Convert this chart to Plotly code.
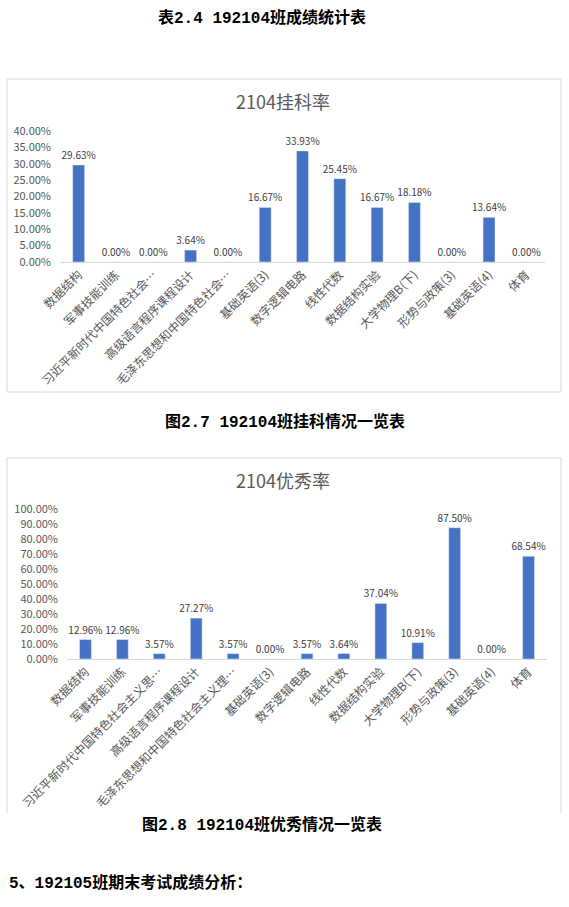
import plotly.graph_objects as go

W, H = 569, 907

# ---- data ----
fail_labels = ["数据结构", "军事技能训练", "习近平新时代中国特色社会…", "高级语言程序课程设计",
               "毛泽东思想和中国特色社会…", "基础英语(3)", "数字逻辑电路", "线性代数",
               "数据结构实验", "大学物理B(下)", "形势与政策(3)", "基础英语(4)", "体育"]
fail_rate = [0.2963, 0.0, 0.0, 0.0364, 0.0, 0.1667, 0.3393, 0.2545, 0.1667, 0.1818, 0.0, 0.1364, 0.0]

exc_labels = ["数据结构", "军事技能训练", "习近平新时代中国特色社会主义思…", "高级语言程序课程设计",
              "毛泽东思想和中国特色社会主义理…", "基础英语(3)", "数字逻辑电路", "线性代数",
              "数据结构实验", "大学物理B(下)", "形势与政策(3)", "基础英语(4)", "体育"]
exc_rate = [0.1296, 0.1296, 0.0357, 0.2727, 0.0357, 0.0, 0.0357, 0.0364, 0.3704, 0.1091, 0.8750, 0.0, 0.6854]

title1 = "2104挂科率"
title2 = "2104优秀率"
cap_top = "表2.4 192104班成绩统计表"
cap1 = "图2.7 192104班挂科情况一览表"
cap2 = "图2.8 192104班优秀情况一览表"
cap_bottom = "5、192105班期末考试成绩分析："

# ---- helpers ----
def px(x):
    return x / W

def py(y):
    return 1 - y / H

GRAY = "#595959"
BAR = "#4472C4"
CJK = "Noto Sans CJK SC, Noto Sans, sans-serif"
CAPF = "Liberation Mono, Noto Sans CJK SC, monospace"

fig = go.Figure()
for lab, val, xa, ya in [(fail_labels, fail_rate, "x", "y"), (exc_labels, exc_rate, "x2", "y2")]:
    fig.add_trace(go.Bar(x=lab, y=val, marker_color=BAR, xaxis=xa, yaxis=ya,
                         texttemplate="%{y:.2%}", textposition="outside", cliponaxis=False,
                         constraintext="none",
                         textfont=dict(size=10, color="#404040", family=CJK), hoverinfo="skip"))

axis_common = dict(showgrid=False, zeroline=False, automargin=False, ticklabelstandoff=8,
                   tickfont=dict(size=11, color=GRAY, family=CJK))
xcommon = dict(tickangle=-45, showline=True, linecolor="#d9d9d9", ticks="", automargin=False,
               tickfont=dict(size=12, color=GRAY, family=CJK), showgrid=False)

fig.update_layout(
    width=W, height=H, margin=dict(l=0, r=0, t=0, b=0, autoexpand=False),
    paper_bgcolor="white", plot_bgcolor="white", showlegend=False,
    bargap=0.68,
    xaxis=dict(domain=[px(60), px(545)], anchor="y", **xcommon),
    yaxis=dict(domain=[py(262), py(131)], anchor="x", range=[0, 0.4], dtick=0.05,
               tickformat=".2%", showline=False, **axis_common),
    xaxis2=dict(domain=[px(67), px(547)], anchor="y2", **xcommon),
    yaxis2=dict(domain=[py(659), py(509)], anchor="x2", range=[0, 1.0], dtick=0.1,
                tickformat=".2%", showline=False, **axis_common),
)

shapes = [
    dict(type="rect", xref="paper", yref="paper", x0=px(7), x1=px(561), y0=py(392), y1=py(79),
         line=dict(color="#d9d9d9", width=1)),
    dict(type="line", xref="paper", yref="paper", x0=px(7), x1=px(561), y0=py(458), y1=py(458),
         line=dict(color="#d9d9d9", width=1)),
    dict(type="line", xref="paper", yref="paper", x0=px(7), x1=px(7), y0=py(458), y1=py(813),
         line=dict(color="#d9d9d9", width=1)),
    dict(type="line", xref="paper", yref="paper", x0=px(561), x1=px(561), y0=py(458), y1=py(813),
         line=dict(color="#d9d9d9", width=1)),
]
fig.update_layout(shapes=shapes)

ann = [
    (cap_top, 262, 18, 16, "black", CAPF, True),
    (title1, 283, 101, 18, GRAY, CJK, False),
    (cap1, 285, 422, 16, "black", CAPF, True),
    (title2, 283, 480, 18, GRAY, CJK, False),
    (cap2, 262, 825, 16, "black", CAPF, True),
]
annotations = []
for text, x, y, size, color, fam, bold in ann:
    annotations.append(dict(xref="paper", yref="paper", x=px(x), y=py(y), xanchor="center",
                            yanchor="middle", showarrow=False,
                            text=("<b>" + text + "</b>") if bold else text,
                            font=dict(size=size, color=color, family=fam)))
annotations.append(dict(xref="paper", yref="paper", x=px(7), y=py(883), xanchor="left",
                        yanchor="middle", showarrow=False, text="<b>" + cap_bottom + "</b>",
                        font=dict(size=16, color="black", family=CAPF)))
fig.update_layout(annotations=annotations)

fig.write_html("out.html")
